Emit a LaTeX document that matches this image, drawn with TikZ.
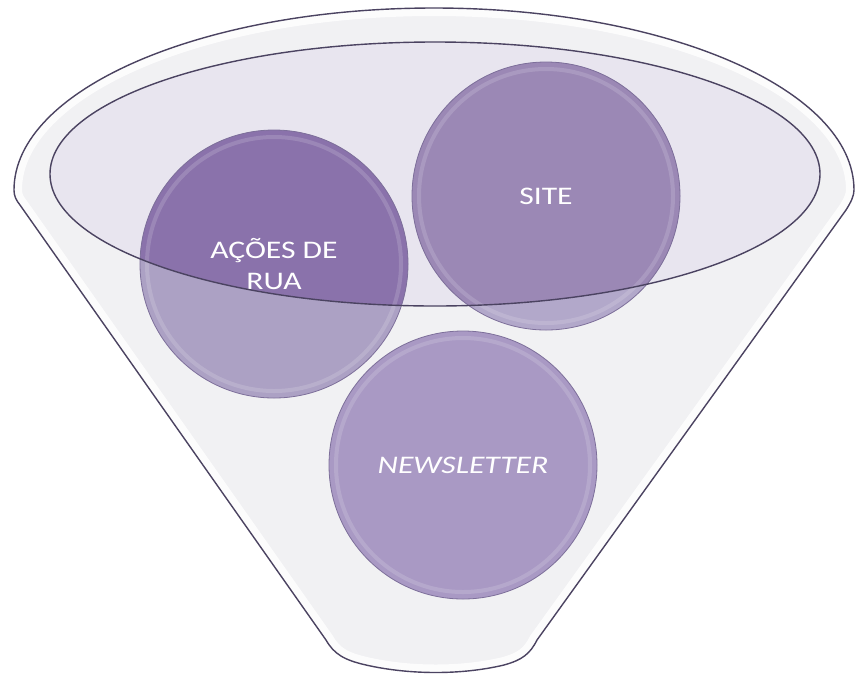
\documentclass[tikz,border=0pt]{standalone}
\usepackage{fontspec}
\setmainfont{Carlito}

\definecolor{funnelfill}{HTML}{F1F1F3}
\definecolor{rimfill}{HTML}{E8E5EF}
\definecolor{rimline}{HTML}{4B4361}
\definecolor{bubbleline}{HTML}{7D6F9A}
\definecolor{acoesin}{HTML}{8A72AB}
\definecolor{acoesout}{HTML}{ACA1C4}
\definecolor{sitein}{HTML}{9B88B5}
\definecolor{siteout}{HTML}{B2A8CA}
\definecolor{newsfill}{HTML}{A999C4}

\tikzset{
	funnelline/.style={draw=rimline, line width=0.35mm},
	bubble/.style={circle, minimum size=67mm, inner sep=0pt, draw=bubbleline, line width=0.2mm,
		text=white, align=center, font=\fontsize{18}{21.6}\selectfont,
		path picture={
			\fill[#1] (rim) ellipse[x radius=385, y radius=132];
			\draw[white, opacity=0.15, line width=1mm] (path picture bounding box.center) circle[radius=127];
		}},
}

\newcommand{\wide}[1]{\scalebox{1.25}[1]{#1}}
\newcommand{\funnelpath}{(14,190) .. controls (14,196) and (16,200) .. (20,205) -- (326,640)
	.. controls (334,654) and (344,660) .. (366,665) .. controls (410,675) and (462,675) .. (504,665)
	.. controls (522,660) and (530,654) .. (537,640) -- (846,210)
	.. controls (851,202) and (854,196) .. (854,190)
	arc[start angle=0, end angle=-180, x radius=420, y radius=182] -- cycle}

\begin{document}
\begin{tikzpicture}[x=0.25mm, y=-0.25mm]
	\useasboundingbox (0,0) rectangle (858,675);
	
	% funnel
	\fill[funnelfill] \funnelpath;
	\begin{scope}
		\clip \funnelpath;
		\draw[white, line width=4mm, opacity=0.8] \funnelpath;
	\end{scope}
	\draw[funnelline] \funnelpath;
	
	\coordinate (rim) at (435,174);
	\fill[rimfill] (rim) ellipse[x radius=385, y radius=132];
	
	% bubbles
	\node[bubble=acoesin, fill=acoesout] (acoes) at (274,264) {\wide{AÇÕES DE}\\\wide{RUA}};
	\node[bubble=sitein, fill=siteout] (site) at (546,196) {\wide{SITE}};
	\node[bubble=newsfill, fill=newsfill] (news) at (463,465) {\wide{\itshape NEWSLETTER}};
	
	\draw[funnelline] (rim) ellipse[x radius=385, y radius=132];
\end{tikzpicture}
\end{document}
